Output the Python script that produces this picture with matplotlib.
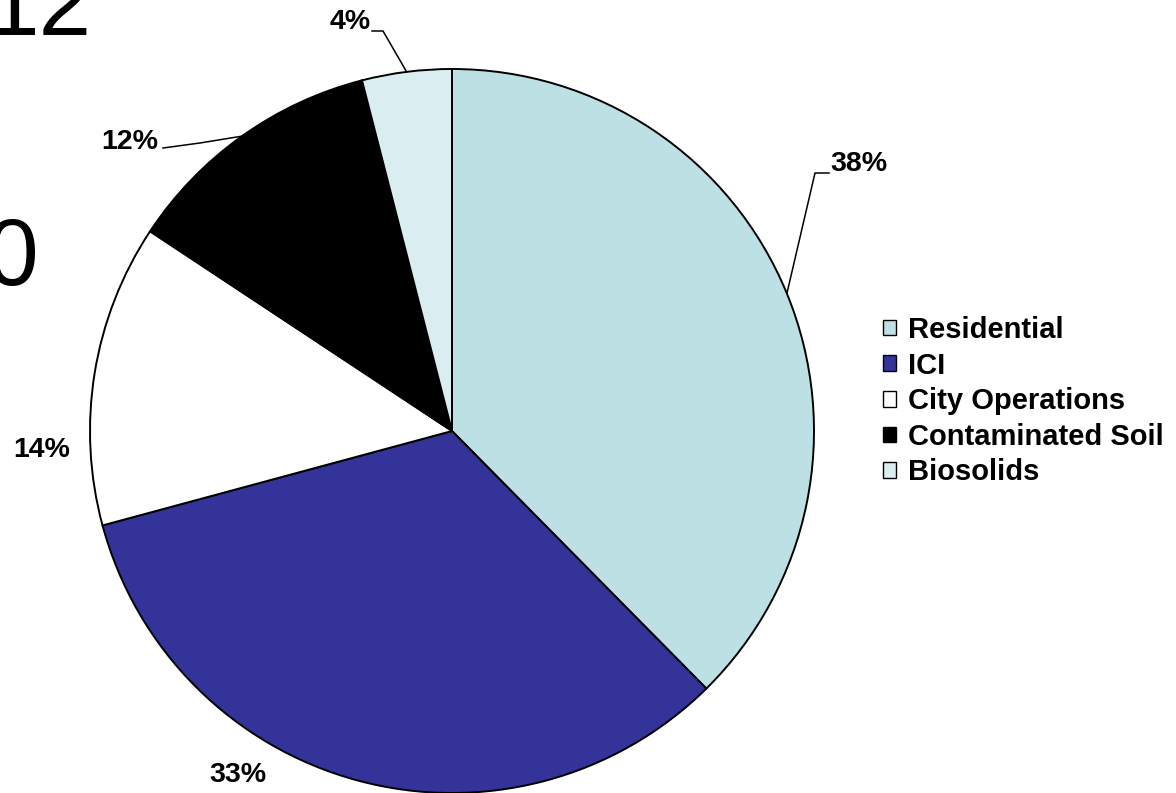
import numpy as np
import matplotlib.pyplot as plt

# slice shares (percent)
categories = ['Residential', 'ICI', 'City Operations', 'Contaminated Soil', 'Biosolids']
shares = [37.6, 33.2, 13.5, 11.7, 4.0]
pct_labels = ['38%', '33%', '14%', '12%', '4%']
colours = ['#BCE0E3', '#333399', '#FFFFFF', '#000000', '#DAEDF0']

W, H = 1176, 793
fig = plt.figure(figsize=(W / 100, H / 100), dpi=100)
ax = fig.add_axes([0, 0, 1, 1])

# big slide title fragments behind the chart
ax.text(92, H - 35, '12', fontsize=68, family='Liberation Sans', ha='right', va='baseline')
ax.text(38, H - 285, '0', fontsize=68, family='Liberation Sans', ha='right', va='baseline')

cx, cy, r = 452, H - 431, 362
wedges, _ = ax.pie(shares, colors=colours, startangle=90, counterclock=False,
                   center=(cx, cy), radius=r, frame=True,
                   wedgeprops=dict(edgecolor='black', linewidth=1.4))
ax.set_xlim(0, W)
ax.set_ylim(0, H)
ax.set_aspect('equal')
ax.axis('off')

# label placement (pixel offsets, y down) and leader line bends
label_pos = [(859, 164), (238, 775), (42, 450), (130, 142), (350, 22)]
leaders = [[(815, 173), (829, 173)], None, None, [(200, 143), (163, 148)], [(383, 31), (372, 31)]]

for w, txt, (lx, ly), lead in zip(wedges, pct_labels, label_pos, leaders):
    mid = np.deg2rad((w.theta1 + w.theta2) / 2)
    ex, ey = cx + r * np.cos(mid), cy + r * np.sin(mid)
    ax.text(lx, H - ly, txt, fontsize=20.5, fontweight='bold', family='Liberation Sans',
            ha='center', va='center')
    if lead:
        xs = [ex] + [p[0] for p in lead]
        ys = [ey] + [H - p[1] for p in lead]
        ax.plot(xs, ys, color='black', lw=1.1)

leg = ax.legend(wedges, categories, loc='upper left', bbox_to_anchor=(883 / W, 1 - 316 / H),
                frameon=False, handlelength=0.45, handleheight=0.45, handletextpad=0.4,
                labelspacing=0.26, borderaxespad=0, borderpad=0,
                prop=dict(family='Liberation Sans', weight='bold', size=21))
for h in leg.legend_handles:
    h.set_linewidth(1.0)

fig.savefig('out.png', dpi=100)
